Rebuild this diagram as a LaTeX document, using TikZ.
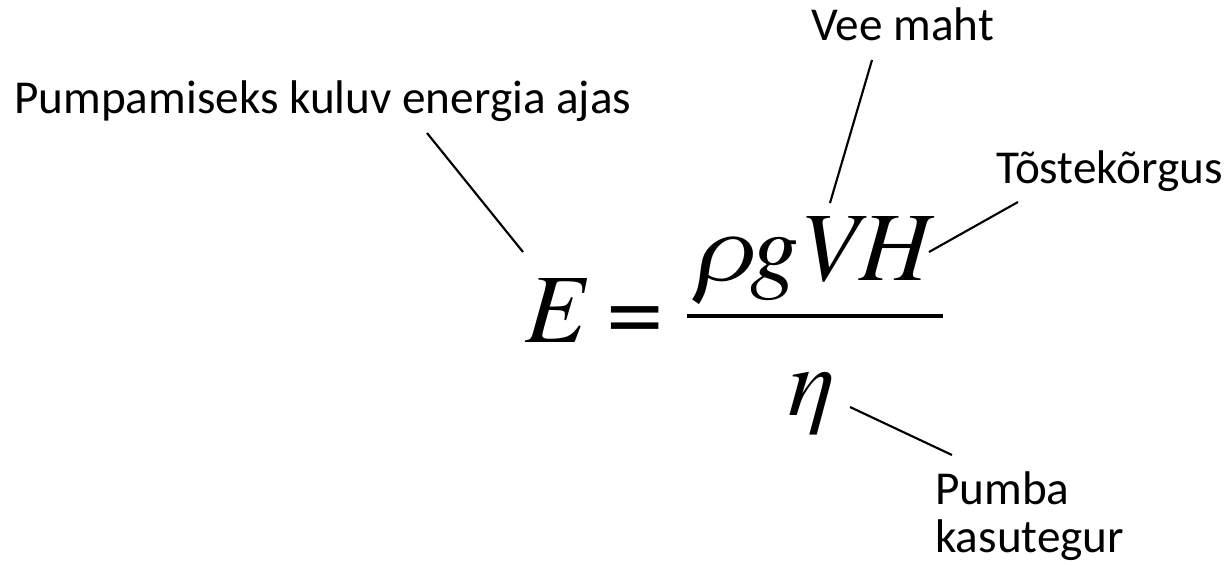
\documentclass[tikz,border=0pt]{standalone}
\usepackage{fontspec}
\setmainfont{Carlito}
\newfontfamily\eqfont{texgyretermes-regular.otf}
\newfontfamily\eqital{texgyretermes-italic.otf}
\usetikzlibrary{positioning,calc}

\tikzset{
  labeltext/.style={inner sep=0pt, anchor=base west, font=\fontsize{35.4}{35.4}\selectfont, align=left},
  eqpart/.style={inner sep=0pt, anchor=base west, font=\eqital\fontsize{73.5}{80}\selectfont},
  pointer/.style={line width=1.6pt}
}

\begin{document}
\begin{tikzpicture}[x=0.75pt,y=-0.75pt]
    \useasboundingbox (0,0) rectangle (1232,565);

    % Formula
    \node[eqpart] (E) at (525,342) {E};
    \node[eqpart, font=\eqfont\fontsize{73.5}{80}\selectfont] (equals) at (607,342) {=};
    \node[eqpart] (num) at (693,280) {ρgVH};
    \node[eqpart] (den) at (788,415) {η};
    \draw[line width=3pt] (687,316) -- (943,316);

    % Labels
    \node[labeltext] (energy) at (14,113) {Pumpamiseks kuluv energia ajas};
    \node[labeltext] (volume) at (811,40) {Vee maht};
    \node[labeltext] (height) at (996,183) {Tõstekõrgus};
    \node[labeltext] (eff) at (935,552) {Pumba\\kasutegur};

    % Pointer ends
    \coordinate (energyTip) at (427,133);
    \coordinate (energyEnd) at (523,252);
    \coordinate (volumeTip) at (872,60);
    \coordinate (volumeEnd) at (830,203);
    \coordinate (heightTip) at (1018,202);
    \coordinate (heightEnd) at (929,252);
    \coordinate (effTip) at (952,455);
    \coordinate (effEnd) at (850,407);

    % Pointers
    \draw[pointer] (energyTip) -- (energyEnd);
    \draw[pointer] (volumeTip) -- (volumeEnd);
    \draw[pointer] (heightTip) -- (heightEnd);
    \draw[pointer] (effTip) -- (effEnd);
\end{tikzpicture}
\end{document}
